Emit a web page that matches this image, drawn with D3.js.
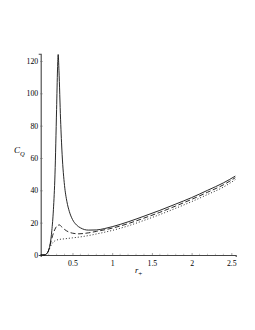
<!DOCTYPE html>
<html>
<head>
<meta charset="utf-8">
<style>
html,body{margin:0;padding:0;background:#fff;}
svg{display:block;}
text{font-family:"Liberation Serif","DejaVu Serif",serif;fill:#000;}
</style>
</head>
<body>
<div id="chart"></div>
<script src="https://cdn.jsdelivr.net/npm/d3@7"></script>
<script>
// values: [r+, C_Q]
const solid = [[0.1,0],[0.15,0.1],[0.18,1],[0.2,3],[0.22,7],[0.24,15],[0.26,28],[0.28,50],
  [0.30,90],[0.312,115],[0.32,124],[0.33,114],[0.35,84],[0.37,62],[0.40,43],[0.43,33],
  [0.46,27],[0.5,22],[0.55,18.6],[0.6,16.8],[0.7,15.4],[0.8,15.5],[0.9,16.3],[1.0,17.5],
  [1.2,20.5],[1.4,24],[1.6,27.6],[1.8,31.5],[2.0,35.5],[2.2,40],[2.4,44.6],[2.55,48.8]];
const dashed = [[0.1,0],[0.15,0.1],[0.18,1],[0.2,3],[0.22,6.5],[0.25,12],[0.28,16],[0.31,18.2],
  [0.335,18.6],[0.36,17.6],[0.4,15.8],[0.45,14.3],[0.5,13.5],[0.58,13.1],[0.7,13.7],[0.8,14.6],
  [1.0,16.6],[1.2,19.4],[1.4,22.8],[1.6,26.4],[1.8,30.3],[2.0,34.4],[2.2,38.8],[2.4,43.4],[2.55,47.8]];
const dotted = [[0.1,0],[0.15,0.1],[0.18,1],[0.2,2.5],[0.22,5],[0.25,7.5],[0.28,8.8],[0.32,9.5],
  [0.4,10],[0.5,10.6],[0.6,11.2],[0.7,12],[0.8,13],[1.0,15.2],[1.2,18],[1.4,21.4],[1.6,25],
  [1.8,28.9],[2.0,33],[2.2,37.4],[2.4,42],[2.55,46.6]];
const xTicks = [0.5, 1, 1.5, 2, 2.5];
const yTicks = [0, 20, 40, 60, 80, 100, 120];

const W = 255, H = 330;
const x = d3.scaleLinear().domain([0.1, 2.555]).range([40.7, 235.7]);
const y = d3.scaleLinear().domain([0, 124.5]).range([255, 53.7]);

const svg = d3.select('#chart').append('svg').attr('width', W).attr('height', H);

/* axes */
const xAxis = svg.append('g').attr('transform', `translate(0,${y(0)})`)
  .call(d3.axisBottom(x).tickValues(xTicks).tickSize(2).tickFormat(d3.format('')));
const yAxis = svg.append('g').attr('transform', `translate(${x(0.1)},0)`)
  .call(d3.axisLeft(y).tickValues(yTicks).tickSize(2).tickFormat(d3.format('')));
[xAxis, yAxis].forEach(a => {
  a.select('.domain').attr('stroke', '#444').attr('stroke-width', 1.1);
  a.selectAll('.tick line').attr('stroke', '#666').attr('stroke-width', 0.6);
  a.selectAll('text').style('font-family', '"Liberation Serif",serif').attr('font-size', 7.8).attr('fill', '#222');
});
xAxis.selectAll('.tick line').attr('y2', -2);
xAxis.selectAll('text').attr('y', 5);
yAxis.selectAll('.tick line').attr('x2', 2).attr('x1', -0.5);
yAxis.selectAll('text').attr('x', -2.5);

/* minor ticks on x axis */
svg.append('g').selectAll('line').data(d3.range(0.2, 2.55, 0.1).filter(v => Math.abs(v*2 - Math.round(v*2)) > 1e-6))
  .join('line')
  .attr('x1', d => x(d)).attr('x2', d => x(d))
  .attr('y1', y(0)).attr('y2', y(0) - 1.3)
  .attr('stroke', '#888').attr('stroke-width', 0.5);

/* curves */
const line = d3.line().x(d => x(d[0])).y(d => y(d[1])).curve(d3.curveMonotoneX);
const series = [
  {data: solid, dash: null},
  {data: dashed, dash: '5,2.5'},
  {data: dotted, dash: '1,2'}
];
svg.append('g').selectAll('path').data(series).join('path')
  .attr('d', d => line(d.data))
  .attr('fill', 'none').attr('stroke', '#111').attr('stroke-width', 0.9)
  .attr('stroke-dasharray', d => d.dash);

/* axis titles */
const yl = svg.append('text').attr('x', 14).attr('y', 153).attr('font-size', 9).attr('font-style', 'italic');
yl.append('tspan').text('C');
yl.append('tspan').attr('dy', 3).attr('font-size', 6.5).text('Q');

const xl = svg.append('text').attr('x', 135).attr('y', 273).attr('font-size', 8.5).attr('font-style', 'italic');
xl.append('tspan').text('r');
xl.append('tspan').attr('dy', 2.5).attr('font-size', 7).attr('font-style', 'normal').text('+');
</script>
</body>
</html>
